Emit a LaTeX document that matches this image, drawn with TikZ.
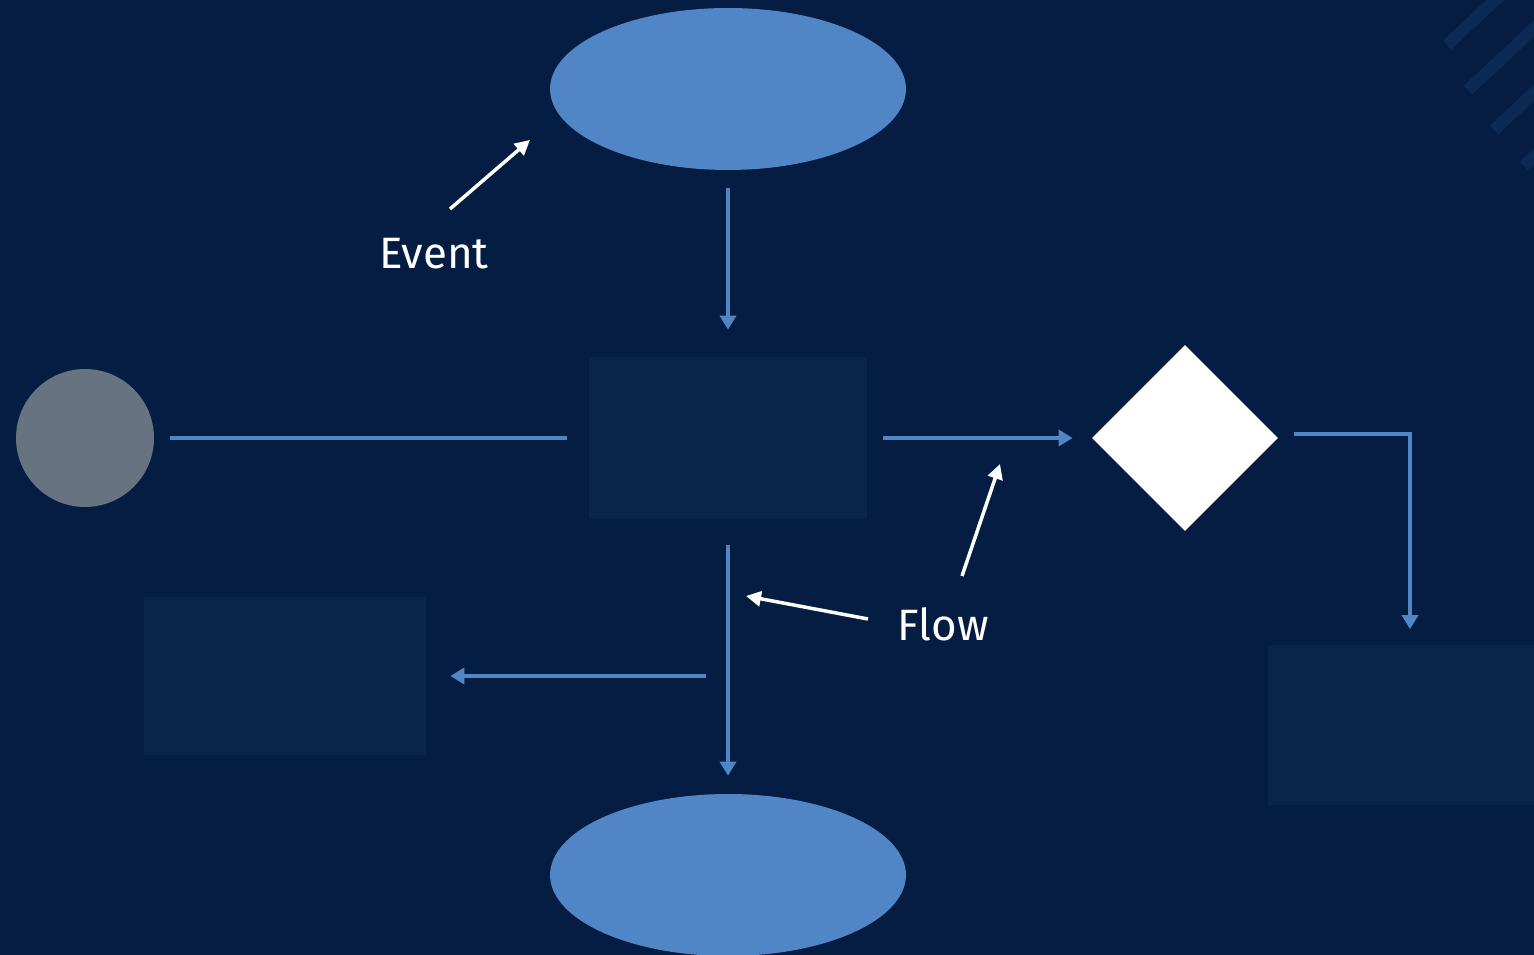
\documentclass[tikz,border=0pt]{standalone}
\usepackage{fontspec}
\setmainfont{Fira Sans}
\usetikzlibrary{arrows.meta,shapes.geometric}
\definecolor{sfondo}{RGB}{5,29,66}
\definecolor{scatola}{RGB}{10,36,74}
\definecolor{striscia}{RGB}{12,42,84}
\definecolor{azzurro}{RGB}{80,134,198}
\definecolor{grigio}{RGB}{102,116,130}
\tikzset{
  evento/.style={ellipse, fill=azzurro, minimum width=7.12cm, minimum height=3.24cm, inner sep=0pt},
  attivita/.style={rectangle, fill=scatola, inner sep=0pt},
  flusso/.style={draw=azzurro, line width=0.08cm},
  richiamo/.style={draw=white, line width=0.07cm, -{Triangle[length=0.3cm, width=0.3cm]}},
  etichetta/.style={text=white, font=\fontsize{25}{30}\selectfont},
}
\begin{document}
\begin{tikzpicture}[x=0.02cm, y=-0.02cm, >={Triangle[length=0.28cm, width=0.32cm]}]
% sfondo
\fill[sfondo] (0,0) rectangle (1534,955);
\clip (0,0) rectangle (1534,955);
% strisce in alto a destra
\foreach \sx/\sy in {1447/45, 1468/90, 1494/130, 1524/166}
  \draw[striscia, line width=0.24cm] (\sx,\sy) -- ++(-43:140);

% forme
\node[evento] (alto) at (728,89) {};
\node[evento] (basso) at (728,875) {};
\node[attivita, minimum width=5.58cm, minimum height=3.24cm] (centro) at (728,438) {};
\node[attivita, minimum width=5.64cm, minimum height=3.18cm] (sinistra) at (285,676) {};
\node[attivita, minimum width=5.68cm, minimum height=3.22cm] (destra) at (1410,725) {};
\node[circle, fill=grigio, minimum size=2.76cm, inner sep=0pt] (cerchio) at (85,438) {};
\node[diamond, fill=white, minimum size=3.72cm, inner sep=0pt] (rombo) at (1185,438) {};

% frecce del flusso
\draw[flusso, ->, shorten <=0.36cm, shorten >=0.54cm] (alto) -- (centro);
\draw[flusso, shorten <=0.32cm, shorten >=0.42cm] (cerchio) -- (centro);
\draw[flusso, ->, shorten <=0.3cm, shorten >=0.38cm] (centro) -- (rombo);
\draw[flusso, ->, shorten <=0.32cm, shorten >=0.3cm] ([yshift=0.08cm]rombo.east) -| (destra.north);
\draw[flusso, ->, shorten <=0.52cm, shorten >=0.36cm] (centro) -- (basso);
\coordinate (ramo) at (706,676);
\draw[flusso, ->, shorten >=0.48cm] (ramo) -- (sinistra);

% etichette
\node[etichetta] (ev) at (434,254) {Event};
\node[etichetta] (fl) at (943,624) {Flow};
\coordinate (ev0) at (450,209); \coordinate (ev1) at (530,140);
\coordinate (fa0) at (962,576); \coordinate (fa1) at (1000,464);
\coordinate (fb0) at (868,619); \coordinate (fb1) at (746,596);
\draw[richiamo] (ev0) -- (ev1);
\draw[richiamo] (fa0) -- (fa1);
\draw[richiamo] (fb0) -- (fb1);
\end{tikzpicture}
\end{document}
